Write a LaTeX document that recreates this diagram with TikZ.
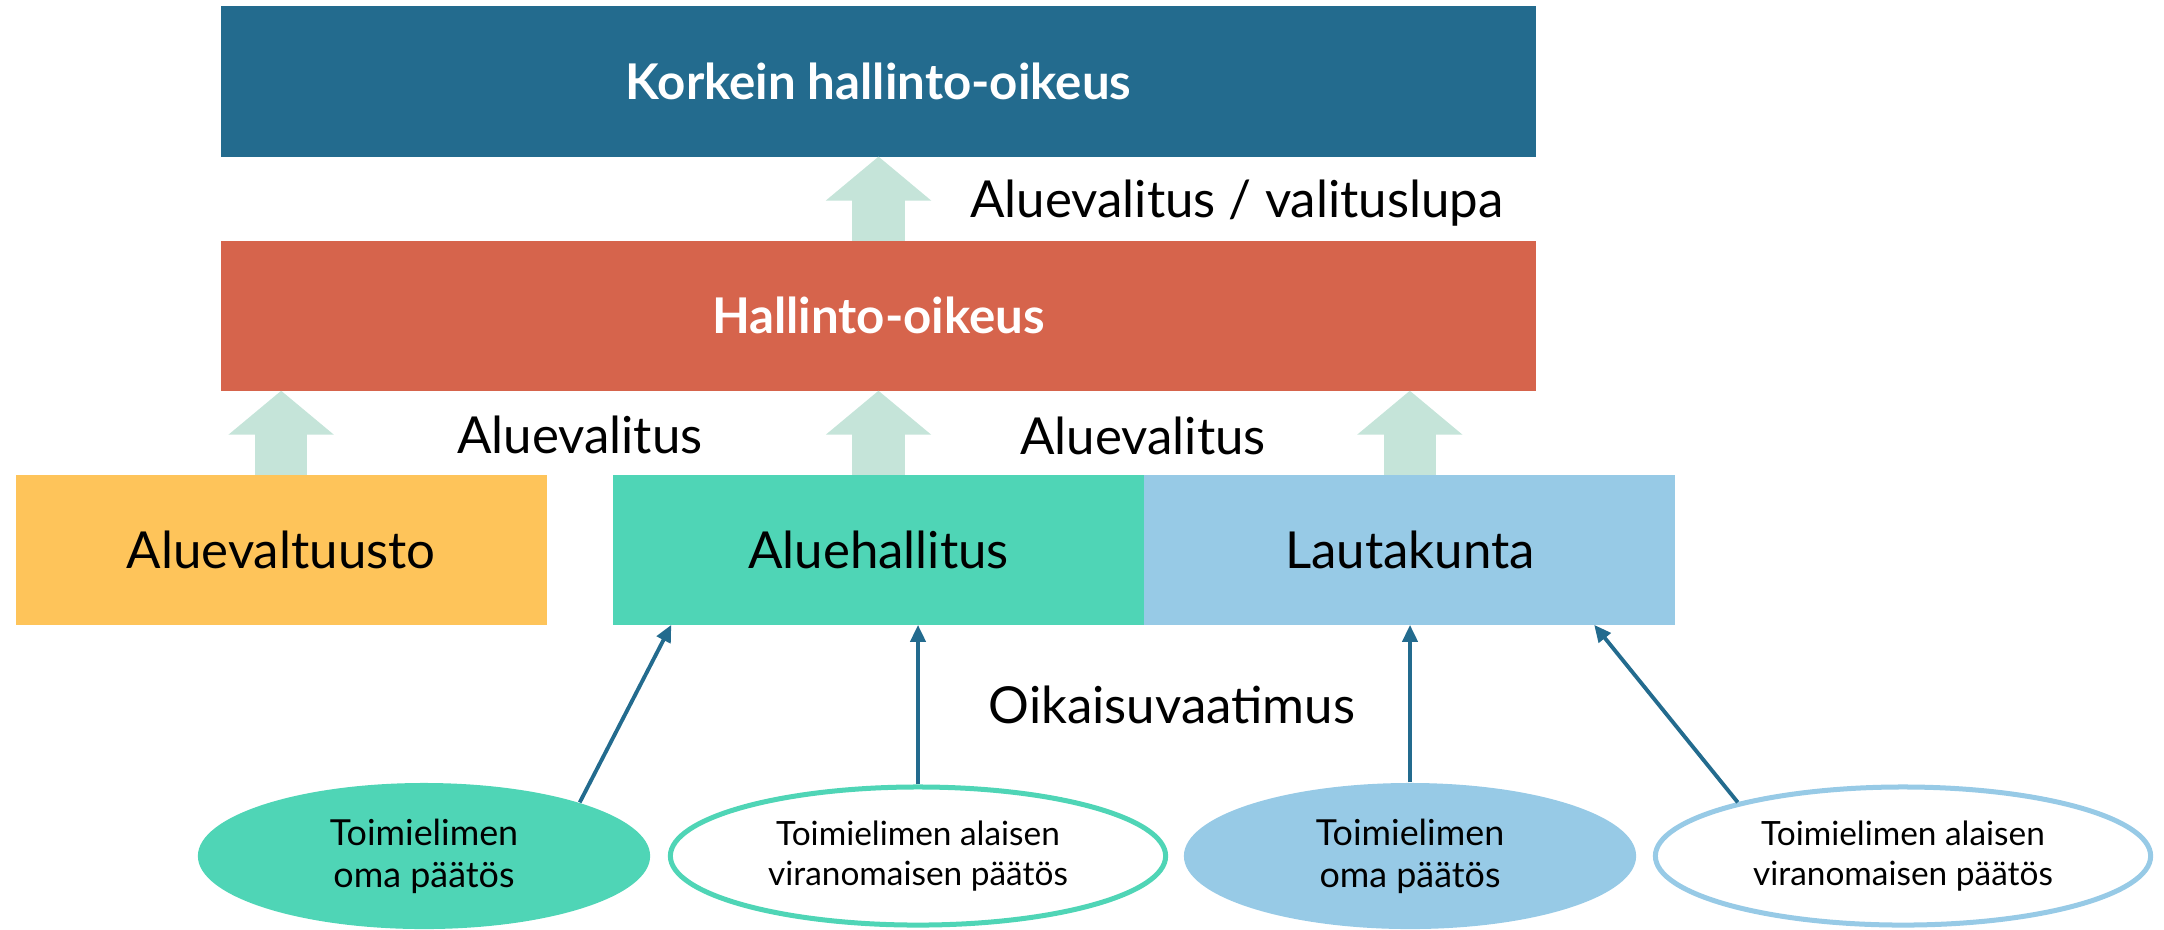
\documentclass[tikz,border=0pt]{standalone}
\usepackage{fontspec}
\setmainfont{Lato}
\usetikzlibrary{positioning, calc, arrows.meta, shapes.geometric}
\definecolor{khoblue}{RGB}{35,107,142}
\definecolor{hored}{RGB}{214,100,76}
\definecolor{mint}{RGB}{197,228,217}
\definecolor{valtyellow}{RGB}{254,196,90}
\definecolor{hallgreen}{RGB}{79,213,182}
\definecolor{lautablue}{RGB}{151,202,230}
\tikzstyle{court} = [rectangle, minimum width=13.15cm, minimum height=1.5cm, outer sep=0pt,
    text centered, text=white, font=\bfseries\fontsize{14}{16}\selectfont]
\tikzstyle{organ} = [rectangle, minimum width=5.31cm, minimum height=1.5cm, outer sep=0pt,
    text centered, font=\fontsize{14.5}{17}\selectfont]
\tikzstyle{own} = [ellipse, minimum width=4.52cm, minimum height=1.46cm, inner sep=0pt,
    align=center, font=\fontsize{10.2}{12}\selectfont]
\tikzstyle{sub} = [ellipse, minimum width=4.95cm, minimum height=1.38cm, inner sep=0pt,
    line width=0.05cm, fill=white, align=center, font=\fontsize{9.5}{11.5}\selectfont]
\tikzstyle{caption} = [font=\fontsize{14.5}{17}\selectfont]
\tikzstyle{bigarrow} = [draw=mint, line width=0.52cm, -{Triangle[length=0.44cm,width=1.03cm]}]
\tikzstyle{link} = [draw=khoblue, line width=1.1pt, -{Triangle[length=0.17cm,width=0.15cm]}]

\begin{document}
\begin{tikzpicture}[x=0.01cm, y=-0.01cm]
                \useasboundingbox (0,0) rectangle (2164,929);
                \node (kho) [court, fill=khoblue] at (878.5,81.5) {Korkein hallinto-oikeus};
                \node (ho) [court, fill=hored, below=0.84cm of kho] {Hallinto-oikeus};
                \node (hallitus) [organ, fill=hallgreen, below=0.84cm of ho] {Aluehallitus};
                \node (alueval) [organ, fill=valtyellow, left=0.66cm of hallitus] {Aluevaltuusto};
                \node (lauta) [organ, fill=lautablue, right=0pt of hallitus] {Lautakunta};

                \node (oma1) [own, fill=hallgreen] at (424,856) {Toimielimen\\oma päätös};
                \node (alainen1) [sub, draw=hallgreen] at (918,856) {Toimielimen alaisen\\viranomaisen päätös};
                \node (oma2) [own, fill=lautablue] at (1410,856) {Toimielimen\\oma päätös};
                \node (alainen2) [sub, draw=lautablue] at (1903,856) {Toimielimen alaisen\\viranomaisen päätös};

                \node (lupa) [caption] at (1237,203) {Aluevalitus / valituslupa};
                \node (av1) [caption] at (580,435) {Aluevalitus};
                \node (av2) [caption] at (1143,436) {Aluevalitus};
                \node (oikaisu) [caption] at (1172,705) {Oikaisuvaatimus};

                \draw [bigarrow] (ho.north) -- (kho.south);
                \draw [bigarrow] (alueval.north) -- (alueval.north |- ho.south);
                \draw [bigarrow] (hallitus.north) -- (hallitus.north |- ho.south);
                \draw [bigarrow] (lauta.north) -- (lauta.north |- ho.south);

                \draw [link] (oma1.19) -- ($(hallitus.south west)!0.11!(hallitus.south east)$);
                \draw [link] (alainen1.north) -- (alainen1.north |- hallitus.south);
                \draw [link] (oma2.north) -- (oma2.north |- lauta.south);
                \draw [link] (alainen2.162) -- ($(lauta.south west)!0.847!(lauta.south east)$);
            \end{tikzpicture}
\end{document}
